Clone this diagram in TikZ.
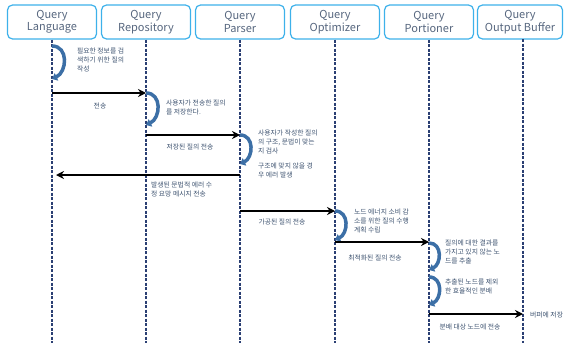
\documentclass[tikz,border=0pt]{standalone}
\usepackage{fontspec}
\setmainfont{Noto Sans CJK KR}
\usetikzlibrary{positioning,arrows.meta}
\definecolor{boxblue}{HTML}{3DB1EA}
\definecolor{headgray}{HTML}{56667E}
\definecolor{lifenavy}{HTML}{2B3F73}
\definecolor{selfblue}{HTML}{3C6FA6}
\definecolor{notegray}{HTML}{3E5370}
\tikzset{
  head/.style={draw=boxblue, line width=1.2pt, rounded corners=5pt,
    minimum width=89pt, minimum height=34pt, align=center, inner sep=1pt,
    text=headgray, font=\fontsize{11}{12.5}\selectfont},
  life/.style={lifenavy, line width=1.3pt, dash pattern=on 3pt off 1.5pt},
  msg/.style={-{Stealth[length=8pt,width=8pt]}, line width=1.6pt},
  selfmsg/.style={selfblue, line width=3.5pt, -{Triangle[length=5pt,width=8pt]}},
  note/.style={font=\fontsize{6.8}{9}\selectfont, text=notegray, align=left,
    inner sep=0pt, anchor=north west},
  midnote/.style={note, anchor=center, align=center},
}
\begin{document}
\begin{tikzpicture}[x=1pt,y=-1pt]
  \useasboundingbox (0,0) rectangle (565,343);
  % objects
  \node[head] (lang) at (52,22) {Query\\Language};
  \node[head] (repo) at (146,22) {Query\\Repository};
  \node[head] (pars) at (240,22) {Query\\Parser};
  \node[head] (opti) at (335,22) {Query\\Optimizer};
  \node[head] (port) at (429,22) {Query\\Portioner};
  \node[head, minimum width=85pt] (outb) at (520,22) {Query\\Output Buffer};
  % lifelines
  \foreach \obj in {lang,repo,pars,opti,port}
    \draw[life] (\obj.south) -- (\obj.south |- 0,343);
  \coordinate (outtop) at (523,39);
  \draw[life] (outtop) -- (outtop |- 0,343);

  % Query Language
  \draw[selfmsg] (lang |- 0,46) to[out=0,in=25,looseness=1.3] (lang |- 0,79);
  \node[note] (n1) at (77,48) {필요한 정보를 검\\색하기 위한 질의\\작성};
  \draw[msg] (lang |- 0,93) -- (repo |- 0,93);
  \node[midnote] (n2) at (100,106) {전송};

  % Query Repository
  \draw[selfmsg] (repo |- 0,93) to[out=0,in=25,looseness=1.3] (repo |- 0,125);
  \node[note] (n3) at (166,100) {사용자가 전송한 질의\\를 저장한다.};
  \draw[msg] (repo |- 0,135) -- (pars |- 0,135);
  \node[midnote] (n4) at (190,147) {저장된 질의 전송};

  % Query Parser
  \draw[selfmsg] (pars |- 0,135) to[out=0,in=25,looseness=1.3] (pars |- 0,164);
  \node[note] (n5) at (258,130) {사용자가 작성한 질의\\의 구조, 문법이 맞는\\지 검사};
  \node[note] (n6) at (258,163) {구조에 맞지 않을 경\\우 에러 발생};
  \draw[msg] (pars |- 0,175) -- ([xshift=4pt]lang.south |- 0,175);
  \node[note] (n7) at (151,182) {발생된 문법적 에러 수\\정 요망 메시지 전송};
  \draw[msg] (pars |- 0,211) -- (opti |- 0,211);
  \node[midnote] (n8) at (282,222) {가공된 질의 전송};

  % Query Optimizer
  \draw[selfmsg] (opti |- 0,211) to[out=0,in=25,looseness=1.3] (opti |- 0,240);
  \node[note] (n9) at (354,209) {노드 에너지 소비 감\\소를 위한 질의 수행\\계획 수립};
  \draw[msg] (opti |- 0,242) -- (port |- 0,242);
  \node[midnote] (n10) at (375,258) {최적화된 질의 전송};

  % Query Portioner
  \draw[selfmsg] (port |- 0,243) to[out=0,in=25,looseness=1.3] (port |- 0,270);
  \node[note] (n11) at (445,240) {질의에 대한 결과를\\가지고 있지 않는 노\\드를 추출};
  \draw[selfmsg] (port |- 0,277) to[out=0,in=25,looseness=1.3] (port |- 0,305);
  \node[note] (n12) at (445,279) {추출된 노드를 제외\\한 효율적인 분배};
  \draw[msg] (port |- 0,314) -- (outtop |- 0,314);
  \node[midnote] (n13) at (470,327) {분배 대상 노드에 전송};

  % Query Output Buffer
  \node[note, anchor=west] (n14) at (530,315) {버퍼에 저장};
\end{tikzpicture}
\end{document}
